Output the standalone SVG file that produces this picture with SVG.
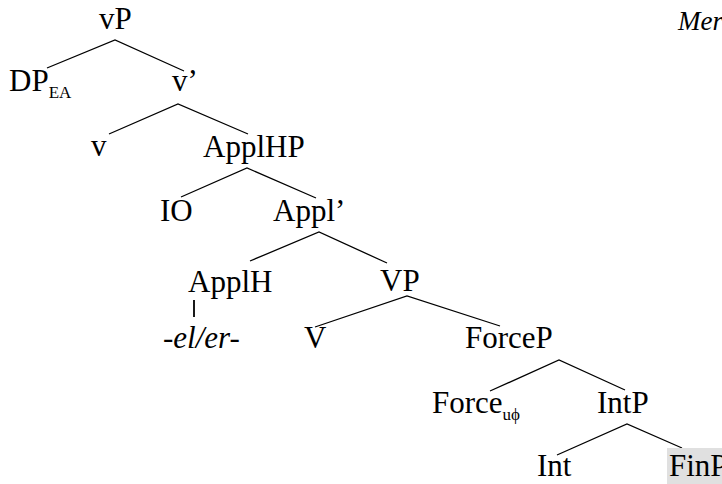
<svg xmlns="http://www.w3.org/2000/svg" width="722" height="484" viewBox="0 0 722 484">
<style>
text{font-family:"Liberation Serif","Times New Roman",serif;font-size:31px;fill:#000}
.it{font-style:italic}
.sub{font-size:17px}
.edge{stroke:#000;stroke-width:1.3;fill:none}
</style>
<rect width="722" height="484" fill="#fff"/>
<g id="connectors">
<path class="edge" d="M47,68 L115,40 L184,71"/>
<path class="edge" d="M109,134 L178,104 L248,134"/>
<path class="edge" d="M181,197 L247,168 L316,198"/>
<path class="edge" d="M250,261 L319,232 L387,263"/>
<path class="edge" d="M194,300 L194,317" style="stroke-width:1.8"/>
<path class="edge" d="M315,327 L407,296 L500,326"/>
<path class="edge" d="M490,391 L559,360 L625,390"/>
<path class="edge" d="M557,455 L627,424 L682,448"/>
</g>
<g id="vP"><text x="99" y="29">vP</text></g>
<g id="DPEA"><text x="9" y="91">DP<tspan class="sub" dy="7">EA</tspan></text></g>
<g id="vbar"><text x="172" y="91">v’</text></g>
<g id="v"><text x="91" y="156">v</text></g>
<g id="ApplHP"><text x="203" y="157">ApplHP</text></g>
<g id="IO"><text x="160" y="221">IO</text></g>
<g id="Applbar"><text x="273" y="221">Appl’</text></g>
<g id="ApplH"><text x="188" y="292">ApplH</text></g>
<g id="elér"><text class="it" x="163" y="348">-el/er-</text></g>
<g id="VP"><text x="380" y="291">VP</text></g>
<g id="V"><text x="304" y="348">V</text></g>
<g id="ForceP"><text x="465" y="348">ForceP</text></g>
<g id="Force"><text x="432" y="413">Force<tspan class="sub" dy="7">uϕ</tspan></text></g>
<g id="IntP"><text x="597" y="413">IntP</text></g>
<g id="Int"><text x="537" y="476">Int</text></g>
<g id="FinP"><rect x="667" y="448" width="55" height="36" fill="#e0e0e0"/><text x="669" y="476">FinP</text></g>
<g id="Mer"><text class="it" x="678" y="30" style="font-size:27px">Mer</text></g>
</svg>
